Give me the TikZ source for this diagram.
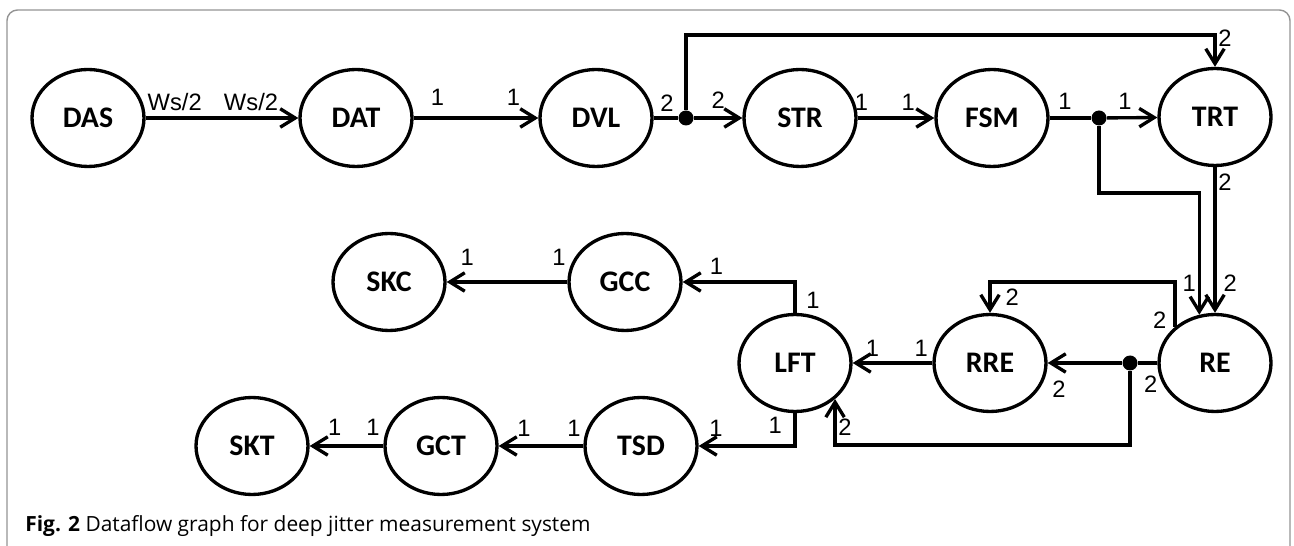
\documentclass[tikz,border=0pt]{standalone}
\usepackage{fontspec}
\setmainfont{Liberation Sans}
\newfontfamily\carlito{Carlito}
\newfontfamily\capfont{Open Sans}
\usetikzlibrary{arrows.meta,shapes.geometric}

\begin{document}
\begin{tikzpicture}[
    x=0.02cm, y=-0.02cm,
    actor/.style={draw, ellipse, line width=1.9pt, inner sep=0pt,
                  minimum width=2.24cm, minimum height=1.94cm,
                  font=\carlito\bfseries\fontsize{17}{20}\selectfont},
    flow/.style={->, line width=1.9pt},
    wire/.style={line width=1.9pt},
    dot/.style={circle, fill, inner sep=0pt, minimum size=0.3cm},
    lbl/.style={font=\fontsize{13.5}{16}\selectfont, inner sep=1pt},
    frame/.style={draw=gray!85, line width=0.8pt, rounded corners=6pt},
    >={Straight Barb[length=8.5pt, width=10.5pt]}
]
\useasboundingbox (0,0) rectangle (1294,546);
\draw[frame] (7,546) -- (7,10) -- (1290,10) -- (1290,546);

% actors
\node[actor] (DAS) at (88,118)   {DAS};
\node[actor] (DAT) at (356,118)  {DAT};
\node[actor] (DVL) at (596,118)  {DVL};
\node[actor] (STR) at (800,118)  {STR};
\node[actor] (FSM) at (992,118)  {FSM};
\node[actor] (TRT) at (1215,117) {TRT};
\node[actor] (RE)  at (1215,363) {RE};
\node[actor] (RRE) at (990,363)  {RRE};
\node[actor] (LFT) at (795,363)  {LFT};
\node[actor] (GCC) at (625,282)  {GCC};
\node[actor] (SKC) at (389,282)  {SKC};
\node[actor] (TSD) at (641,446)  {TSD};
\node[actor] (GCT) at (441,446)  {GCT};
\node[actor] (SKT) at (252,446)  {SKT};

% forks
\node[dot] (j1) at (686,118) {};
\node[dot] (j2) at (1099,118) {};
\node[dot] (j3) at (1130,363) {};

\coordinate (railtop) at (0,35);
\coordinate (jog)     at (0,193);
\coordinate (railmid) at (0,282);
\coordinate (railbot) at (0,445);

% top row
\draw[flow] (DAS) -- node[lbl, pos=.19, above=2pt]{Ws/2} node[lbl, pos=.69, above=2pt]{Ws/2} (DAT);
\draw[flow] (DAT) -- node[lbl, pos=.19, above=5pt]{1} node[lbl, pos=.8, above=5pt]{1} (DVL);
\draw[wire] (DVL) -- node[lbl, pos=.54, above=2pt]{2} (j1);
\draw[flow] (j1) -- node[lbl, pos=.5, above=3.5pt]{2} (STR);
\draw[flow] (j1) -- (j1 |- railtop) -| node[lbl, pos=.55, right]{2} (TRT);
\draw[flow] (STR) -- node[lbl, pos=.05, above=2.5pt]{1} node[lbl, pos=.66, above=2.5pt]{1} (FSM);
\draw[wire] (FSM) -- node[lbl, pos=.37, above=3pt]{1} (j2);
\draw[flow] (j2) -- node[lbl, pos=.36, above=3pt]{1} (TRT);
\draw[flow] (j2) -- (j2 |- jog) -| node[lbl, pos=.87, left]{1} (RE.108);
\draw[flow] (TRT) -- node[lbl, pos=.1, right]{2} node[lbl, pos=.8, right=3pt]{2} (RE);

% feedback round RE and RRE
\draw[flow] (RE.138) -- node[lbl, pos=.15, left=3pt]{2} (RE.138 |- railmid)
    -| node[lbl, pos=.74, right=7pt]{2} (RRE);
\draw[wire] (RE) -- node[lbl, pos=.34, below=5.5pt]{2} (j3);
\draw[flow] (j3) -- node[lbl, pos=.85, below=8.5pt]{2} (RRE);
\draw[flow] (j3) -- (j3 |- railbot) -| node[lbl, pos=.69, right]{2} (LFT.-42);
\draw[flow] (RRE) -- node[lbl, pos=.14, above=1.5pt]{1} node[lbl, pos=.75, above=1.5pt]{1} (LFT);

% bottom rows
\draw[flow] (LFT) |- node[lbl, pos=.2, right=4.5pt]{1} node[lbl, pos=.85, above=2.5pt]{1} (GCC);
\draw[flow] (LFT) |- node[lbl, pos=.18, left=5.5pt]{1} node[lbl, pos=.91, above=3.5pt]{1} (TSD);
\draw[flow] (GCC) -- node[lbl, pos=.07, above=7.5pt]{1} node[lbl, pos=.83, above=7.5pt]{1} (SKC);
\draw[flow] (TSD) -- node[lbl, pos=.11, above=3.5pt]{1} node[lbl, pos=.7, above=3.5pt]{1} (GCT);
\draw[flow] (GCT) -- node[lbl, pos=.14, above=4pt]{1} node[lbl, pos=.66, above=4pt]{1} (SKT);

\node[anchor=base west, inner sep=0pt, font=\capfont\fontsize{11.9}{14}\selectfont] (cap) at (25,532)
    {\textbf{Fig. 2} Dataflow graph for deep jitter measurement system};
\end{tikzpicture}
\end{document}
